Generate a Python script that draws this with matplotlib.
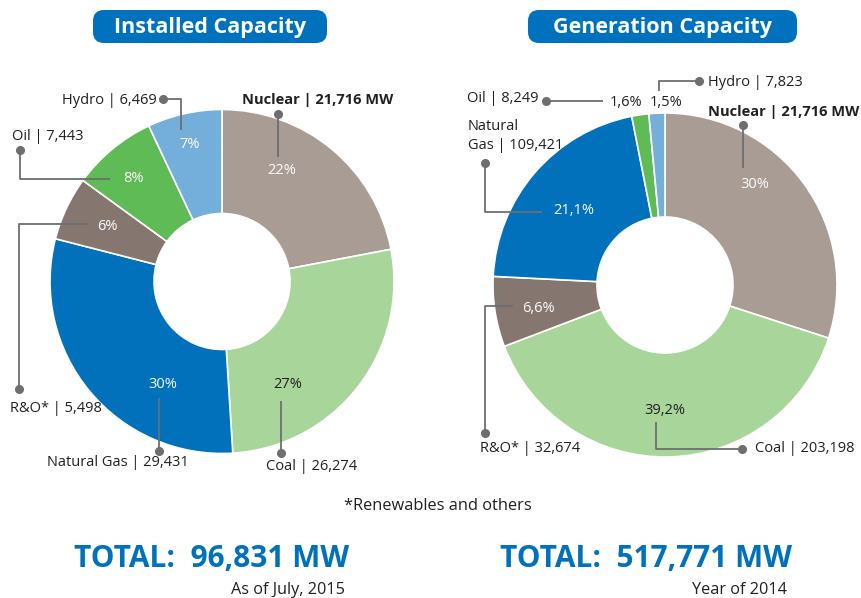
import matplotlib.pyplot as plt
from matplotlib.patches import FancyBboxPatch

# canvas size in pixels (figure is drawn in pixel coords, y pointing down)
W, H = 861, 598

# ---- data ----
fuels_left = ['Nuclear', 'Coal', 'Natural Gas', 'R&O', 'Oil', 'Hydro']
share_left = [22, 27, 30, 6, 8, 7]          # slices follow the rounded shares
pct_left = ['22%', '27%', '30%', '6%', '8%', '7%']
names_left = ['Nuclear | 21,716 MW', 'Coal | 26,274', 'Natural Gas | 29,431',
              'R&O* | 5,498', 'Oil | 7,443', 'Hydro | 6,469']

fuels_right = ['Nuclear', 'Coal', 'R&O', 'Natural Gas', 'Oil', 'Hydro']
share_right = [30, 39.2, 6.6, 21.1, 1.6, 1.5]
pct_right = ['30%', '39,2%', '6,6%', '21,1%', '1,6%', '1,5%']
names_right = ['Nuclear | 21,716 MW', 'Coal | 203,198', 'R&O* | 32,674',
               'Natural\nGas | 109,421', 'Oil | 8,249', 'Hydro | 7,823']

titles = ['Installed Capacity', 'Generation Capacity']
totals = ['TOTAL:  96,831 MW', 'TOTAL:  517,771 MW']
notes = ['As of July, 2015', 'Year of 2014']

colors = {
    'Nuclear': '#A89C94',
    'Coal': '#A8D59A',
    'Natural Gas': '#0071BA',
    'R&O': '#857670',
    'Oil': '#5FBB55',
    'Hydro': '#74AEDA',
}
BLUE = '#0071BC'
GREY = '#6D6E71'
DARK = '#231F20'

plt.rcParams['font.family'] = ['Open Sans', 'DejaVu Sans']

# ---- layout (pixel positions of annotations) ----
# each entry: pct text pos, pct color, name pos, leader polyline (last point gets a dot)
layout_left = dict(
    center=(222, 281.5), title_box=(93, 10, 234, 33),
    total=(212, 559), note=(345, 590),
    items=[
        ((282, 170), 'white', (242, 100), [(278, 157), (278, 114)]),
        ((288, 384), DARK, (266, 466), [(281, 401), (281, 453)]),
        ((163, 384), 'white', (47, 463), [(159, 398), (159, 451)]),
        ((107, 226), 'white', (10, 409), [(89, 224), (19, 224), (19, 389)]),
        ((133, 179), 'white', (12, 136), [(110, 179), (20, 179), (20, 150)]),
        ((190, 144), 'white', (62, 100), [(181, 130), (181, 99), (163, 99)]),
    ])
layout_right = dict(
    center=(665, 285), title_box=(528, 10, 269, 33),
    total=(646, 559), note=(787, 590),
    items=[
        ((755, 185), 'white', (708, 112), [(743, 168), (743, 125)]),
        ((665, 410), DARK, (755, 449), [(656, 422), (656, 449), (742, 449)]),
        ((538, 308), 'white', (480, 449), [(513, 306), (485, 306), (485, 433)]),
        ((574, 211), 'white', (468, 136), [(542, 212), (485, 212), (485, 163)]),
        ((626, 102), DARK, (467, 99), [(603, 101), (546, 101)]),
        ((666, 102), DARK, (708, 83), [(659, 91), (659, 81), (699, 81)]),
    ])

fig = plt.figure(figsize=(W / 100, H / 100), dpi=100)
ax = fig.add_axes([0, 0, 1, 1])

R_OUT, R_IN = 172, 68


def draw_donut(values, fuels, pcts, names, lay):
    # y axis is flipped, so counterclock=True looks clockwise; -90 is the top
    ax.pie(values, center=lay['center'], radius=R_OUT, startangle=-90,
           counterclock=True, colors=[colors[f] for f in fuels],
           wedgeprops=dict(width=R_OUT - R_IN, edgecolor='white', linewidth=1.2))
    for i, (pxy, pcol, nxy, leader) in enumerate(lay['items']):
        xs = [p[0] for p in leader]
        ys = [p[1] for p in leader]
        ax.plot(xs, ys, color=GREY, lw=1.3, solid_capstyle='butt', zorder=3)
        ax.plot(xs[-1], ys[-1], 'o', color=GREY, ms=5.5, zorder=4)
        ax.text(pxy[0], pxy[1], pcts[i], color=pcol, fontsize=10.5,
                ha='center', va='center', zorder=5)
        ax.text(nxy[0], nxy[1], names[i], color=DARK, fontsize=10.5,
                ha='left', va='center', linespacing=1.35,
                fontweight='bold' if i == 0 else 'normal', zorder=5)
    bx, by, bw, bh = lay['title_box']
    ax.add_patch(FancyBboxPatch((bx, by), bw, bh,
                                boxstyle='round,pad=0,rounding_size=11',
                                fc=BLUE, ec='none', zorder=2))


draw_donut(share_left, fuels_left, pct_left, names_left, layout_left)
draw_donut(share_right, fuels_right, pct_right, names_right, layout_right)

for lay, title, total, note in zip([layout_left, layout_right], titles, totals, notes):
    bx, by, bw, bh = lay['title_box']
    ax.text(bx + bw / 2, by + bh / 2 + 1, title, color='white', fontsize=15.5,
            fontweight='bold', ha='center', va='center', zorder=5)
    ax.text(lay['total'][0], lay['total'][1], total, color=BLUE, fontsize=21.5,
            fontweight='bold', ha='center', va='center')
    ax.text(lay['note'][0], lay['note'][1], note, color=DARK, fontsize=11.7,
            ha='right', va='center')

ax.text(438, 506, '*Renewables and others', color=DARK, fontsize=11.8,
        ha='center', va='center')

ax.set_xlim(0, W)
ax.set_ylim(H, 0)
ax.set_aspect('auto')
ax.axis('off')

fig.savefig('out.png', dpi=100)
